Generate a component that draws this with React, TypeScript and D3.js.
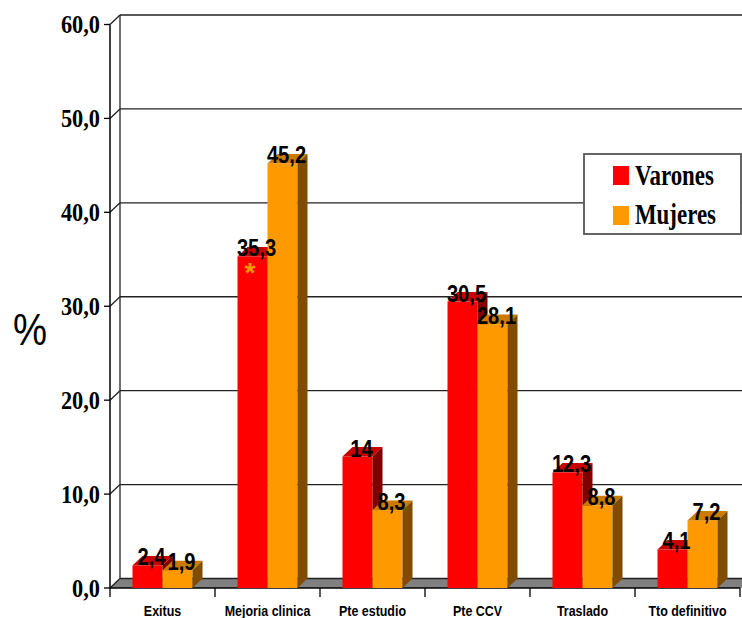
import React from "react";
import * as d3 from "d3";

const categories = ["Exitus", "Mejoria clinica", "Pte estudio", "Pte CCV", "Traslado", "Tto definitivo"];
const varones = [2.4, 35.3, 14, 30.5, 12.3, 4.1];
const mujeres = [1.9, 45.2, 8.3, 28.1, 8.8, 7.2];
const varonesLabels = ["2,4", "35,3", "14", "30,5", "12,3", "4,1"];
const mujeresLabels = ["1,9", "45,2", "8,3", "28,1", "8,8", "7,2"];
const yTicks = [0, 10, 20, 30, 40, 50, 60];
const yTickLabels = ["0,0", "10,0", "20,0", "30,0", "40,0", "50,0", "60,0"];
const seriesNames = ["Varones", "Mujeres"];

const W = 742;
const H = 618;
const DX = 10;
const DY = 9.5;
const x0 = 110;
const x1 = 740;
const yBase = 588;
const SANS = "Liberation Sans, Arial, sans-serif";
const SERIF = "Liberation Serif, Times New Roman, serif";

const colors = {
  Varones: { front: "#FF0000", top: "#C80000", side: "#800000" },
  Mujeres: { front: "#FF9900", top: "#CC7A00", side: "#7F4C00" },
} as Record<string, { front: string; top: string; side: string }>;

function T(props: {
  x: number;
  y: number;
  sx?: number;
  anchor?: string;
  family: string;
  size: number;
  bold?: boolean;
  fill?: string;
  children: React.ReactNode;
}) {
  const { x, y, sx = 0.84, anchor = "start", family, size, bold, fill = "#000", children } = props;
  return (
    <text
      transform={`translate(${x},${y}) scale(${sx},1)`}
      textAnchor={anchor}
      fontFamily={family}
      fontSize={size}
      fontWeight={bold ? "bold" : "normal"}
      fill={fill}
    >
      {children}
    </text>
  );
}

export default function App() {
  const y = d3.scaleLinear().domain([0, 60]).range([yBase, 24.5]);
  const x = d3.scaleBand<string>().domain(categories).range([x0, x1]).paddingInner(0).paddingOuter(0);
  const inner = d3
    .scaleBand<string>()
    .domain(seriesNames)
    .range([0, x.bandwidth()])
    .paddingInner(0)
    .paddingOuter(0.75);
  const bw = inner.bandwidth();

  const seriesData = [
    { name: "Varones", values: varones, labels: varonesLabels },
    { name: "Mujeres", values: mujeres, labels: mujeresLabels },
  ];

  const bars: React.ReactNode[] = [];
  const labels: React.ReactNode[] = [];
  categories.forEach((c, ci) => {
    seriesData.forEach((s) => {
      const v = s.values[ci];
      const bx = (x(c) as number) + (inner(s.name) as number);
      const yt = y(v);
      const col = colors[s.name];
      bars.push(
        <g key={c + s.name}>
          <rect x={bx} y={yt} width={bw} height={yBase - yt} fill={col.front} />
          <polygon
            points={`${bx},${yt} ${bx + DX},${yt - DY} ${bx + bw + DX},${yt - DY} ${bx + bw},${yt}`}
            fill={col.top}
          />
          <polygon
            points={`${bx + bw},${yt} ${bx + bw + DX},${yt - DY} ${bx + bw + DX},${yBase - DY} ${bx + bw},${yBase}`}
            fill={col.side}
          />
        </g>
      );
      labels.push(
        <T key={"l" + c + s.name} x={bx + bw / 2 + 4} y={yt} anchor="middle" family={SANS} size={24} bold>
          {s.labels[ci]}
        </T>
      );
    });
  });

  return (
    <svg width={W} height={H} style={{ position: "absolute", left: 0, top: 0, background: "#fff" }}>
      {/* floor */}
      <polygon
        points={`${x0},${yBase} ${x0 + DX},${yBase - DY} ${x1 + DX + 20},${yBase - DY} ${x1 + 20},${yBase}`}
        fill="#808080"
      />
      {/* back wall gridlines */}
      {yTicks.map((t, i) => (
        <g key={"g" + t}>
          <line x1={x0 + DX} x2={W} y1={y(t) - DY} y2={y(t) - DY} stroke="#222" strokeWidth={1.3} />
          <line x1={x0} x2={x0 + DX} y1={y(t)} y2={y(t) - DY} stroke="#222" strokeWidth={1.3} />
          <line x1={x0 - 6} x2={x0} y1={y(t)} y2={y(t)} stroke="#000" strokeWidth={1.3} />
          <T x={x0 - 10} y={y(t) + 8.5} anchor="end" family={SERIF} size={26} bold sx={0.86}>
            {yTickLabels[i]}
          </T>
        </g>
      ))}
      <line x1={x0 + DX} x2={x0 + DX} y1={y(60) - DY} y2={yBase - DY} stroke="#222" strokeWidth={1.3} />
      <line x1={x0} x2={x0} y1={y(60)} y2={yBase} stroke="#000" strokeWidth={1.5} />
      <line x1={x0} x2={x1} y1={yBase} y2={yBase} stroke="#000" strokeWidth={1.5} />
      {categories.map((c) => (
        <line key={"t" + c} x1={x(c) as number} x2={x(c) as number} y1={yBase} y2={yBase + 9} stroke="#000" strokeWidth={1.3} />
      ))}
      <line x1={x1} x2={x1} y1={yBase} y2={yBase + 9} stroke="#000" strokeWidth={1.3} />
      {bars}
      {labels}
      <T x={250} y={282} anchor="middle" family={SANS} size={28} bold fill="#FF9900" sx={1}>
        *
      </T>
      {categories.map((c) => (
        <T key={"c" + c} x={(x(c) as number) + x.bandwidth() / 2} y={616} anchor="middle" family={SANS} size={15} bold sx={0.83}>
          {c}
        </T>
      ))}
      <T x={30} y={345} anchor="middle" family={SANS} size={44} sx={0.87}>
        %
      </T>
      {/* legend */}
      <rect x={584} y={154} width={157} height={80} fill="#fff" stroke="#555" strokeWidth={1.8} />
      {seriesNames.map((s, i) => (
        <g key={"lg" + s}>
          <rect x={613} y={166 + i * 40} width={16} height={19} fill={colors[s].front} />
          <T x={635} y={185 + i * 39} family={SERIF} size={29} bold sx={0.79}>
            {s}
          </T>
        </g>
      ))}
    </svg>
  );
}
